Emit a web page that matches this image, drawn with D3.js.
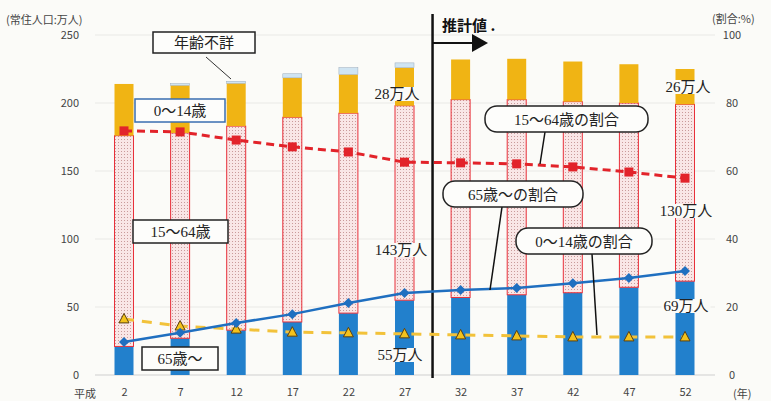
<!DOCTYPE html>
<html>
<head>
<meta charset="utf-8">
<script src="https://cdn.jsdelivr.net/npm/d3@7"></script>
<style>
  body { margin: 0; background: #fbfbf8; }
  svg { display: block; }
</style>
</head>
<body>
<svg id="chart" width="771" height="401"></svg>
<script>
// 年次（平成）
const years = ["2", "7", "12", "17", "22", "27", "32", "37", "42", "47", "52"];
// 年齢区分別人口（万人）
const age65 = [21, 27, 33, 39, 45.5, 55, 57, 59, 60.5, 64.5, 69];
const age1564 = [155, 151, 150, 150.5, 147, 143, 145.5, 143.5, 140.5, 135.5, 130];
const age014 = [38, 35, 31.5, 29, 28.5, 28, 29.5, 30, 29.5, 28.5, 26];
const ageUnknown = [0, 1.2, 1.5, 3, 5, 3.5, 0, 0, 0, 0, 0];
// 割合（%）
const share1564 = [71.8, 71.5, 69.1, 67.1, 65.6, 62.6, 62.4, 62.1, 61.2, 59.7, 57.9];
const share65 = [9.7, 12.4, 15.3, 17.9, 21.2, 24.1, 25, 25.6, 27, 28.5, 30.6];
const share014 = [16.5, 14.4, 13.5, 12.6, 12.4, 12.1, 11.8, 11.5, 11.2, 11.2, 11.2];
// 目盛
const leftTicks = [0, 50, 100, 150, 200, 250];
const rightTicks = [0, 20, 40, 60, 80, 100];

const bg = "#fbfbf8";
const jp = "'Noto Sans CJK JP', sans-serif";
const mixed = "'Liberation Serif', 'Noto Sans CJK JP', serif";

const svg = d3.select("#chart");

// pattern for 15~64
const defs = svg.append("defs");
const pat = defs.append("pattern")
    .attr("id", "dots")
    .attr("width", 3).attr("height", 3)
    .attr("patternUnits", "userSpaceOnUse");
pat.append("rect").attr("width", 3).attr("height", 3).attr("fill", "#f9e6e6");
pat.append("rect").attr("x", 1).attr("y", 1).attr("width", 1).attr("height", 1).attr("fill", "#c99a9a");

const x = d3.scalePoint().domain(years).range([124, 685]);
const y = d3.scaleLinear().domain([0, 250]).range([375, 35]);
const yr = d3.scaleLinear().domain([0, 100]).range([375, 35]);
const barW = 19;

// grid lines
svg.append("g").selectAll("line")
    .data(leftTicks)
    .enter().append("line")
    .attr("x1", 95).attr("x2", 715)
    .attr("y1", d => y(d)).attr("y2", d => y(d))
    .attr("stroke", d => d === 0 ? "#cfcfcf" : "#e9e9e6")
    .attr("stroke-width", 1);

// left axis
const gl = svg.append("g")
    .attr("transform", "translate(79,0)")
    .call(d3.axisLeft(y).tickValues(leftTicks).tickSize(0).tickPadding(0));
gl.select(".domain").remove();
gl.selectAll("text").attr("font-family", jp).attr("font-size", 11).attr("fill", "#444");

// right axis
const gr = svg.append("g")
    .attr("transform", "translate(732,0)")
    .call(d3.axisRight(yr).tickValues(rightTicks).tickSize(0).tickPadding(0));
gr.select(".domain").remove();
gr.selectAll("text").attr("text-anchor", "middle").attr("x", 0)
    .attr("font-family", jp).attr("font-size", 11).attr("fill", "#444");

// bottom axis
const gb = svg.append("g")
    .attr("transform", "translate(0,388)")
    .call(d3.axisBottom(x).tickSize(0).tickPadding(0));
gb.select(".domain").remove();
gb.selectAll("text").attr("font-family", jp).attr("font-size", 11).attr("fill", "#444");

svg.append("text").attr("x", 74).attr("y", 398)
    .attr("font-family", jp).attr("font-size", 11).attr("fill", "#444").text("平成");
svg.append("text").attr("x", 733).attr("y", 398)
    .attr("font-family", jp).attr("font-size", 11).attr("fill", "#444").text("(年)");
svg.append("text").attr("x", 6).attr("y", 24)
    .attr("font-family", jp).attr("font-size", 11).attr("fill", "#444").text("(常住人口:万人)");
svg.append("text").attr("x", 712).attr("y", 23)
    .attr("font-family", jp).attr("font-size", 11).attr("fill", "#444").text("(割合:%)");

// stacked bars
const rows = years.map((yv, i) => ({
    year: yv, a65: age65[i], a1564: age1564[i], a014: age014[i], unk: ageUnknown[i]
}));
const keys = ["a65", "a1564", "a014", "unk"];
const fills = { a65: "#2280cc", a1564: "url(#dots)", a014: "#f0b414", unk: "#cfe4f2" };
const strokes = { a65: "none", a1564: "#e8303a", a014: "none", unk: "#9ab" };
const series = d3.stack().keys(keys)(rows);

svg.append("g").selectAll("g")
    .data(series)
    .enter().append("g")
    .each(function (s) {
        d3.select(this).selectAll("rect")
            .data(s.filter(d => d[1] - d[0] > 0))
            .enter().append("rect")
            .attr("x", d => x(d.data.year) - barW / 2)
            .attr("width", barW)
            .attr("y", d => y(d[1]))
            .attr("height", d => y(d[0]) - y(d[1]))
            .attr("fill", fills[s.key])
            .attr("stroke", strokes[s.key])
            .attr("stroke-width", s.key === "unk" ? 0.5 : 1);
    });

// 推計値 divider
const divX = (x("27") + x("32")) / 2;
svg.append("line")
    .attr("x1", divX).attr("x2", divX).attr("y1", 14).attr("y2", 378)
    .attr("stroke", "#111").attr("stroke-width", 2.5);
svg.append("line")
    .attr("x1", divX).attr("x2", 474).attr("y1", 43).attr("y2", 43)
    .attr("stroke", "#111").attr("stroke-width", 2);
svg.append("path")
    .attr("d", "M472,34 L488,43 L472,52 Z").attr("fill", "#111");
svg.append("text").attr("x", 442).attr("y", 31)
    .attr("font-family", jp).attr("font-size", 15).attr("font-weight", "bold")
    .attr("fill", "#111").text("推計値 .");

// share lines
function drawLine(vals, color, width, dash) {
    const pts = years.map((yv, i) => [x(yv), yr(vals[i])]);
    svg.append("path")
        .attr("d", d3.line()(pts))
        .attr("fill", "none")
        .attr("stroke", color)
        .attr("stroke-width", width)
        .attr("stroke-dasharray", dash);
    return pts;
}

const p014 = drawLine(share014, "#f2c23a", 3, "10,8");
svg.append("g").selectAll("path")
    .data(p014).enter().append("path")
    .attr("d", d => `M${d[0]},${d[1] - 5.5} L${d[0] + 5},${d[1] + 4} L${d[0] - 5},${d[1] + 4} Z`)
    .attr("fill", "#f3c21c").attr("stroke", "#5a4010").attr("stroke-width", 1);

const p1564 = drawLine(share1564, "#e2232a", 3, "8,5");
svg.append("g").selectAll("rect")
    .data(p1564).enter().append("rect")
    .attr("x", d => d[0] - 4.5).attr("y", d => d[1] - 4.5)
    .attr("width", 9).attr("height", 9)
    .attr("fill", "#e2232a");

const p65 = drawLine(share65, "#1f6fc0", 2.5, null);
svg.append("g").selectAll("path")
    .data(p65).enter().append("path")
    .attr("d", d => `M${d[0]},${d[1] - 5} L${d[0] + 5},${d[1]} L${d[0]},${d[1] + 5} L${d[0] - 5},${d[1]} Z`)
    .attr("fill", "#1f6fc0");

// value labels with background
function valueLabel(tx, ty, txt) {
    const g = svg.append("g");
    const t = g.append("text").attr("x", tx).attr("y", ty)
        .attr("text-anchor", "middle")
        .attr("font-family", mixed).attr("font-size", 15).attr("fill", "#222")
        .text(txt);
    const b = t.node().getBBox();
    g.insert("rect", "text")
        .attr("x", b.x - 2).attr("y", b.y + 1)
        .attr("width", b.width + 4).attr("height", b.height - 2)
        .attr("fill", bg);
}
valueLabel(397, 99, "28万人");
valueLabel(401, 255, "143万人");
valueLabel(400, 360, "55万人");
valueLabel(688, 92, "26万人");
valueLabel(686, 216, "130万人");
valueLabel(686, 311, "69万人");

// square legend boxes
function boxLabel(bx, by, bw, bh, txt, border) {
    svg.append("rect").attr("x", bx).attr("y", by).attr("width", bw).attr("height", bh)
        .attr("fill", "#fdfdfb").attr("stroke", border).attr("stroke-width", 1.5);
    svg.append("text").attr("x", bx + bw / 2).attr("y", by + bh / 2 + 5.5)
        .attr("text-anchor", "middle")
        .attr("font-family", mixed).attr("font-size", 15).attr("fill", "#222")
        .text(txt);
}
svg.append("line").attr("x1", 206).attr("y1", 57).attr("x2", 231).attr("y2", 79)
    .attr("stroke", "#333").attr("stroke-width", 1);
boxLabel(153, 32, 102, 21, "年齢不詳", "#222");
boxLabel(135, 99, 90, 23, "0〜14歳", "#3a6eb0");
boxLabel(133, 220, 95, 23, "15〜64歳", "#222");
boxLabel(142, 347, 76, 23, "65歳〜", "#222");

// rounded callouts
function callout(bx, by, bw, bh, txt, lx1, ly1, lx2, ly2) {
    svg.append("line").attr("x1", lx1).attr("y1", ly1).attr("x2", lx2).attr("y2", ly2)
        .attr("stroke", "#111").attr("stroke-width", 1.5);
    svg.append("rect").attr("x", bx).attr("y", by).attr("width", bw).attr("height", bh)
        .attr("rx", 12).attr("ry", 12)
        .attr("fill", "#fdfdfb").attr("stroke", "#222").attr("stroke-width", 1.5);
    svg.append("text").attr("x", bx + bw / 2).attr("y", by + bh / 2 + 5.5)
        .attr("text-anchor", "middle")
        .attr("font-family", mixed).attr("font-size", 15).attr("fill", "#222")
        .text(txt);
}
callout(485, 106, 163, 26, "15〜64歳の割合", 545, 132, 540, 164);
callout(443, 181, 140, 26, "65歳〜の割合", 502, 207, 490, 290);
callout(516, 228, 136, 26, "0〜14歳の割合", 592, 254, 597, 335);
</script>
</body>
</html>
